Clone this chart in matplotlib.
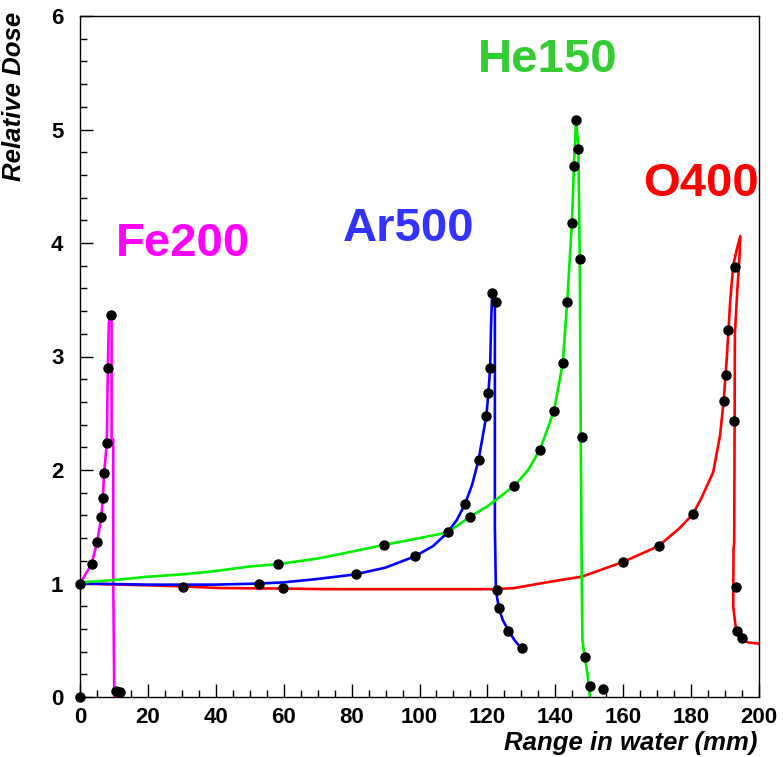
import matplotlib
matplotlib.use('Agg')
import matplotlib.pyplot as plt
from matplotlib.ticker import MultipleLocator

plt.rcParams['font.family'] = ['Liberation Sans', 'DejaVu Sans']

# Fe200 curve + measured points
fe_x = [0, 3.4, 5.1, 6.3, 6.7, 7.1, 7.9, 8.2, 8.5, 8.9, 9.3, 9.3, 9.8, 9.8, 10.1, 10.6, 12.0]
fe_y = [1.0, 1.17, 1.37, 1.59, 1.75, 1.97, 2.24, 2.9, 3.3, 3.37, 3.3, 2.27, 2.27, 1.0, 0.0, 0.02, 0.02]
fe_px = [0, 0, 3.4, 5.1, 6.3, 6.7, 7.1, 7.95, 8.3, 9.0, 10.6, 11.8]
fe_py = [0, 1.0, 1.17, 1.37, 1.59, 1.75, 1.97, 2.24, 2.90, 3.37, 0.05, 0.04]

# Ar500
ar_x = [0, 20, 40, 53, 60, 70, 81, 90, 98.7, 104, 108.3, 111, 113.4, 115.5, 117.4, 119.7,
        120.3, 120.8, 121.1, 121.4, 122.2, 122.2, 122.5, 123.4, 124.5, 126.2, 128.0, 130.2]
ar_y = [1.0, 0.99, 0.99, 1.0, 1.01, 1.04, 1.08, 1.14, 1.24, 1.33, 1.45, 1.56, 1.70, 1.87, 2.09, 2.48,
        2.68, 2.90, 3.3, 3.55, 3.48, 1.5, 0.94, 0.78, 0.68, 0.585, 0.5, 0.42]
ar_px = [52.8, 81.2, 98.7, 108.3, 113.4, 117.4, 119.7, 120.3, 120.8, 121.5, 122.4, 122.9, 123.4, 126.2, 130.2]
ar_py = [1.0, 1.08, 1.24, 1.45, 1.70, 2.09, 2.48, 2.68, 2.90, 3.56, 3.48, 0.94, 0.78, 0.585, 0.43]

# He150
he_x = [0, 10, 20, 30, 40, 50, 58.2, 70, 80, 89.5, 100, 108.3, 115, 120, 127.9, 132, 135.5,
        139.6, 142.2, 143.5, 144.9, 145.5, 146.1, 146.8, 147.2, 147.5, 147.8, 148.0, 148.7, 149.5, 150.2]
he_y = [1.01, 1.03, 1.06, 1.08, 1.11, 1.15, 1.17, 1.22, 1.28, 1.34, 1.40, 1.45, 1.59, 1.68, 1.86, 2.0, 2.18,
        2.52, 2.94, 3.48, 4.18, 4.68, 5.08, 4.85, 3.86, 2.29, 1.0, 0.5, 0.35, 0.2, 0.0]
he_px = [58.2, 89.5, 115.0, 127.9, 135.5, 139.6, 142.2, 143.5, 144.9, 145.5, 146.1, 146.6,
         147.2, 147.8, 148.7, 150.2, 154.0]
he_py = [1.17, 1.34, 1.59, 1.86, 2.18, 2.52, 2.94, 3.48, 4.18, 4.68, 5.08, 4.83,
         3.86, 2.29, 0.35, 0.10, 0.07]

# O400
o_x = [0, 30.4, 41, 60, 73, 100, 122, 128, 135.5, 141.4, 147.8, 160, 170.4, 176.7, 180.5, 183,
       186.5, 188.5, 189.6, 190.5, 191.5, 192.4, 193.5, 194.5, 194.2, 193.6, 192.9, 192.7, 192.5,
       192.4, 193.2, 194.9, 197, 200]
o_y = [1.0, 0.975, 0.96, 0.955, 0.95, 0.95, 0.95, 0.96, 1.0, 1.03, 1.06, 1.19, 1.33, 1.49, 1.61, 1.75,
       1.98, 2.30, 2.61, 2.98, 3.48, 3.80, 3.95, 4.06, 3.85, 3.58, 3.2, 1.36, 1.3,
       0.80, 0.60, 0.50, 0.48, 0.47]
o_px = [30.4, 59.9, 160.0, 170.4, 180.5, 189.6, 190.4, 191.0, 193.0, 192.6, 193.2, 193.6, 194.9]
o_py = [0.97, 0.96, 1.19, 1.33, 1.61, 2.61, 2.84, 3.23, 3.79, 2.43, 0.97, 0.58, 0.52]

fig = plt.figure(figsize=(7.83, 7.57), dpi=100)
ax = fig.add_axes([80/783, 60/757, 679/783, 681/757])

ax.plot(fe_x, fe_y, color='#ff00ff', lw=1.9)
ax.plot(o_x, o_y, color='#ff0000', lw=1.9)
ax.plot(ar_x, ar_y, color='#0000ff', lw=1.9)
ax.plot(he_x, he_y, color='#00ee00', lw=1.9)

for px, py in [(fe_px, fe_py), (ar_px, ar_py), (he_px, he_py), (o_px, o_py)]:
    ax.plot(px, py, 'o', color='black', ms=6.5, ls='none', zorder=5, clip_on=False)

lbl = dict(fontsize=34, fontweight='bold', ha='center', va='center')
ax.text(30.2, 3.99, 'Fe200', color='#ff00ff', **lbl)
ax.text(96.8, 4.12, 'Ar500', color='#3333ff', **lbl)
ax.text(137.7, 5.61, 'He150', color='#33cc33', **lbl)
ax.text(183.0, 4.52, 'O400', color='#ff0000', **lbl)

ax.set_xlim(0, 200)
ax.set_ylim(0, 6)
ax.xaxis.set_major_locator(MultipleLocator(20))
ax.xaxis.set_minor_locator(MultipleLocator(5))
ax.yaxis.set_major_locator(MultipleLocator(1))
ax.yaxis.set_minor_locator(MultipleLocator(0.2))
ax.tick_params(which='both', direction='in', top=False, right=False, width=1)
ax.tick_params(which='major', length=9.5)
ax.tick_params(which='minor', length=5)
ax.tick_params(axis='x', pad=7, labelsize=16)
ax.tick_params(axis='y', pad=12, labelsize=16)
for t in ax.get_xticklabels() + ax.get_yticklabels():
    t.set_fontweight('bold')
for s in ax.spines.values():
    s.set_linewidth(1)

fig.text(14/783, 1 - 12/757, 'Relative Dose', rotation=90, ha='center', va='top',
         fontsize=18.5, fontweight='bold', fontstyle='italic')
fig.text(757/783, 1 - 743/757, 'Range in water (mm)', ha='right', va='center',
         fontsize=18.5, fontweight='bold', fontstyle='italic')

fig.savefig('out.png', dpi=100)
